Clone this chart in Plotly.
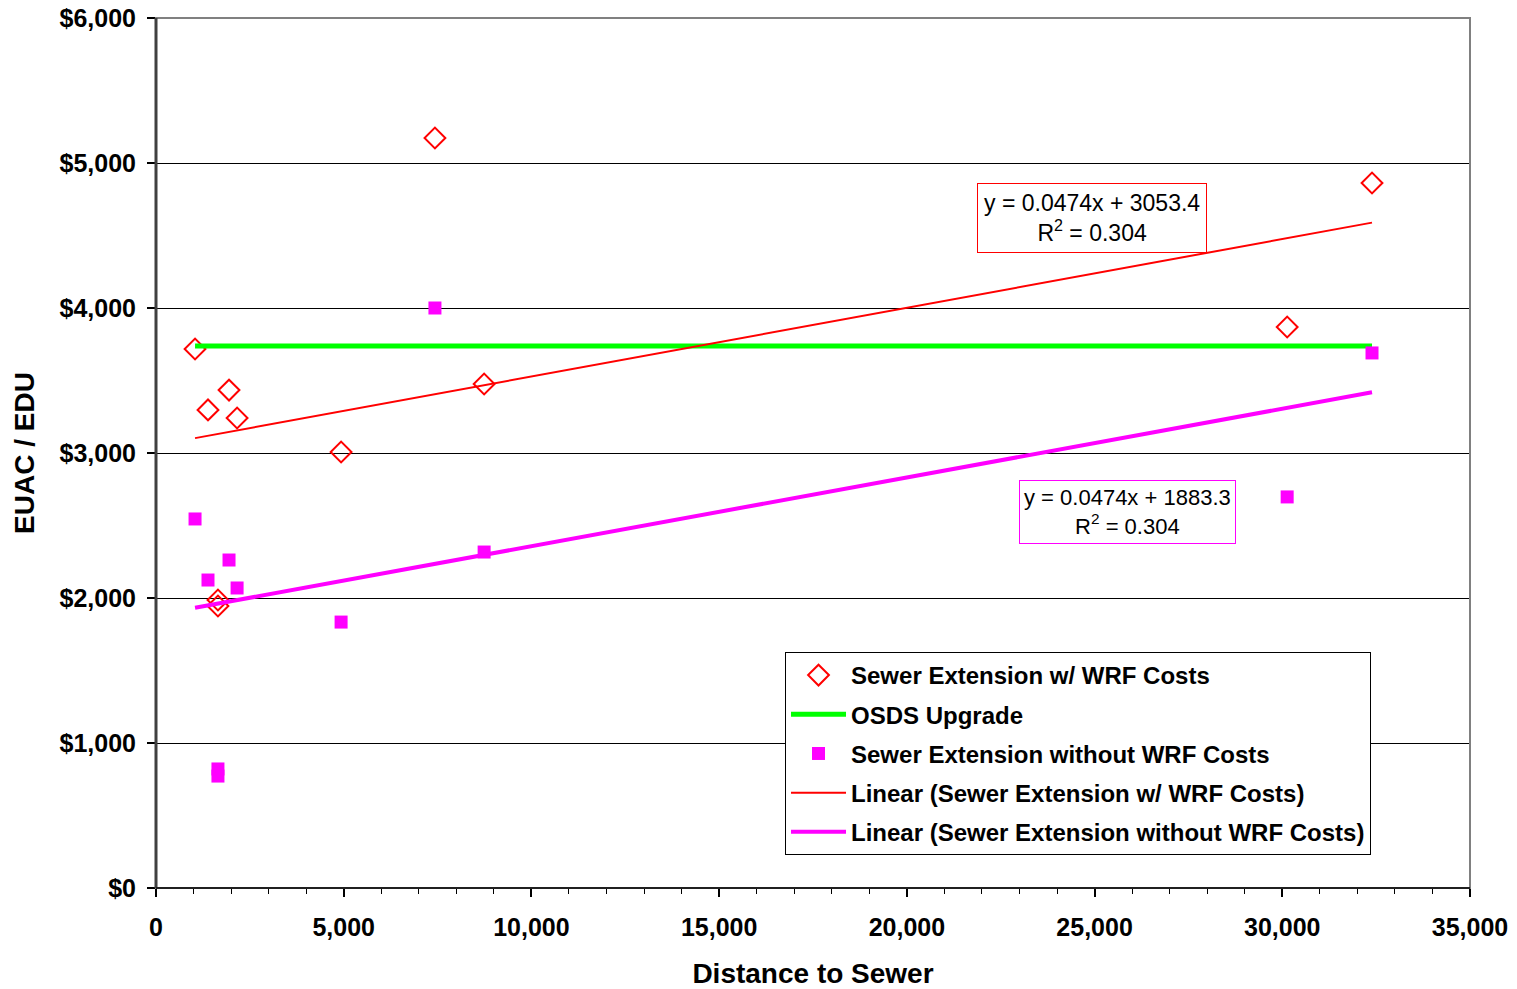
import plotly.graph_objects as go

# Distance to sewer (ft) for each site
distance = [1040, 1385, 1945, 2160, 1650, 1650, 4930, 7430, 8740, 30130, 32390]
# EUAC per EDU, sewer extension including WRF costs
cost_with_wrf = [3717, 3297, 3434, 3241, 1986, 1945, 3007, 5172, 3476, 3869, 4862]
# EUAC per EDU, sewer extension excluding WRF costs
cost_without_wrf = [2545, 2124, 2262, 2069, 821, 772, 1834, 4000, 2317, 2697, 3690]
# OSDS upgrade cost (flat)
osds_cost = 3738

# Linear trend coefficients
slope_with, icpt_with, r2_with = 0.0474, 3053.4, 0.304
slope_without, icpt_without, r2_without = 0.0474, 1883.3, 0.304

x_ticks = [0, 5000, 10000, 15000, 20000, 25000, 30000, 35000]
y_ticks = [0, 1000, 2000, 3000, 4000, 5000, 6000]
x_ticktext = [f"{v:,}" for v in x_ticks]
y_ticktext = [f"${v:,}" for v in y_ticks]

x_lo, x_hi = min(distance), max(distance)
trend_x = [x_lo, x_hi]
trend_with = [slope_with * v + icpt_with for v in trend_x]
trend_without = [slope_without * v + icpt_without for v in trend_x]
osds_x = sorted(distance)
osds_y = [osds_cost] * len(osds_x)

FONT = "Liberation Sans, Arial, sans-serif"

fig = go.Figure()
fig.add_trace(go.Scatter(
    x=distance, y=cost_with_wrf, mode="markers",
    name="Sewer Extension w/ WRF Costs", legendgroup="a",
    marker=dict(symbol="diamond-open", size=16, color="#ff0000", line=dict(width=2, color="#ff0000")),
))
fig.add_trace(go.Scatter(
    x=osds_x, y=osds_y, mode="lines", name="OSDS Upgrade", legendgroup="b",
    line=dict(color="#00ff00", width=5),
))
fig.add_trace(go.Scatter(
    x=distance, y=cost_without_wrf, mode="markers",
    name="Sewer Extension without WRF Costs", legendgroup="c",
    marker=dict(symbol="square", size=13, color="#ff00ff"),
))
fig.add_trace(go.Scatter(
    x=trend_x, y=trend_with, mode="lines",
    name="Linear (Sewer Extension w/ WRF Costs)", legendgroup="d",
    line=dict(color="#ff0000", width=2),
))
fig.add_trace(go.Scatter(
    x=trend_x, y=trend_without, mode="lines",
    name="Linear (Sewer Extension without WRF Costs)", legendgroup="e",
    line=dict(color="#ff00ff", width=4),
))

# Equation labels
fig.add_annotation(
    x=24930, y=4620, xref="x", yref="y", showarrow=False,
    text=f"y = {slope_with}x + {icpt_with}<br>R<sup>2</sup> = {r2_with}",
    font=dict(family=FONT, size=23, color="black"),
    bordercolor="#ff0000", borderwidth=1, borderpad=6, bgcolor="white",
    xanchor="center", yanchor="middle",
)
fig.add_annotation(
    x=25880, y=2590, xref="x", yref="y", showarrow=False,
    text=f"y = {slope_without}x + {icpt_without}<br>R<sup>2</sup> = {r2_without}",
    font=dict(family=FONT, size=22, color="black"),
    bordercolor="#ff00ff", borderwidth=1, borderpad=4, bgcolor="white",
    xanchor="center", yanchor="middle",
)

# Plot-area frame
fig.add_shape(type="rect", xref="paper", yref="paper", x0=0, y0=0, x1=1, y1=1,
              line=dict(color="#808080", width=2), layer="above")
fig.add_shape(type="line", xref="paper", yref="paper", x0=0, y0=0, x1=0, y1=1,
              line=dict(color="#404040", width=3), layer="above")
fig.add_shape(type="line", xref="paper", yref="paper", x0=0, y0=0, x1=1, y1=0,
              line=dict(color="#202020", width=2), layer="above")

fig.update_layout(
    width=1517, height=989,
    margin=dict(l=156, r=47, t=18, b=101, autoexpand=False),
    paper_bgcolor="white", plot_bgcolor="white",
    font=dict(family=FONT, color="black"),
    showlegend=True,
    legend=dict(
        x=0.4787, y=0.2713, xanchor="left", yanchor="top",
        bgcolor="white", bordercolor="black", borderwidth=1,
        font=dict(family=FONT, size=24, color="black", weight="bold"),
        itemwidth=55, tracegroupgap=5,
    ),
    xaxis=dict(
        range=[0, 35000], tickvals=x_ticks, ticktext=x_ticktext,
        showgrid=False, zeroline=False, automargin=False,
        showline=False, ticks="outside", ticklen=8, tickwidth=2, tickcolor="black",
        ticklabelstandoff=9,
        minor=dict(dtick=1000, ticks="outside", ticklen=5, tickwidth=1, tickcolor="black", showgrid=False),
        tickfont=dict(family=FONT, size=25, color="black", weight="bold"),
        title=dict(text="Distance to Sewer", font=dict(family=FONT, size=28, color="black", weight="bold"), standoff=24),
    ),
    yaxis=dict(
        range=[0, 6000], tickvals=y_ticks, ticktext=y_ticktext,
        showgrid=True, gridcolor="black", gridwidth=1, zeroline=False, automargin=False,
        showline=False, ticks="outside", ticklen=8, tickwidth=2, tickcolor="black",
        ticklabelstandoff=6,
        tickfont=dict(family=FONT, size=25, color="black", weight="bold"),
        title=dict(text="EUAC / EDU", font=dict(family=FONT, size=28, color="black", weight="bold"), standoff=16),
    ),
)

fig.write_html("out.html")
